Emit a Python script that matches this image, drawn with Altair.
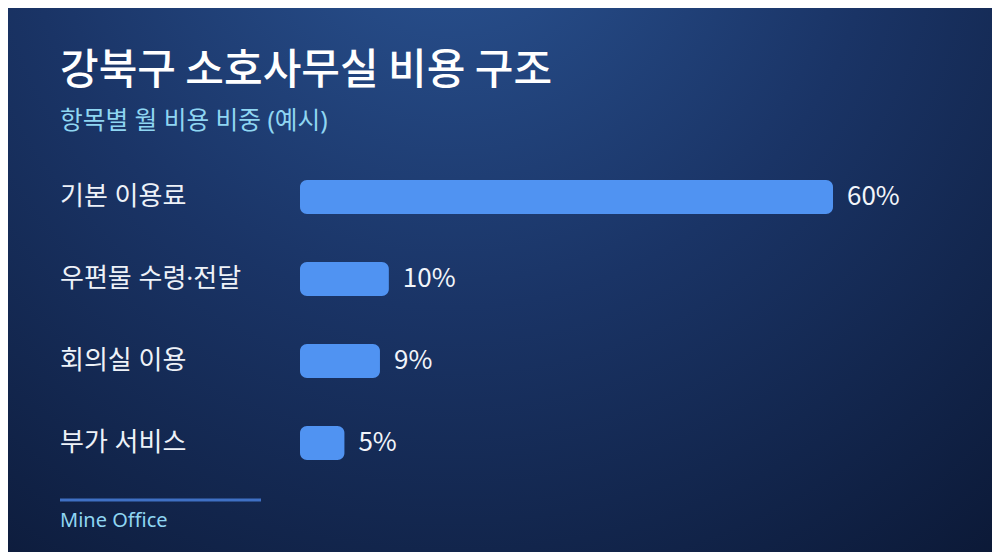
import altair as alt
import pandas as pd

categories = ["기본 이용료", "우편물 수령·전달", "회의실 이용", "부가 서비스"]
values = [60, 10, 9, 5]
value_labels = ["60%", "10%", "9%", "5%"]

title_text = "강북구 소호사무실 비용 구조"
subtitle_text = "항목별 월 비용 비중 (예시)"
footer_text = "Mine Office"

FONT = "Noto Sans CJK KR"
MIXED = "Noto Sans, Noto Sans CJK KR"
W, H = 984, 544

df = pd.DataFrame({"category": categories, "value": values, "label": value_labels})
one = pd.DataFrame({"k": [0]})

bg = alt.Chart(one).mark_rect(
    fill={
        "gradient": "radial",
        "x1": 0.45, "y1": 0.1, "r1": 0.0,
        "x2": 0.45, "y2": 0.1, "r2": 0.95,
        "stops": [
            {"offset": 0.0, "color": "#2b5595"},
            {"offset": 0.45, "color": "#1a3466"},
            {"offset": 1.0, "color": "#09142e"},
        ],
    }
).encode(
    x=alt.value(-8), x2=alt.value(W + 8), y=alt.value(-8), y2=alt.value(H + 8)
)

yscale = alt.Scale(type="point", domain=categories, range=[189, 435], padding=0)
xscale = alt.Scale(domain=[0, 60], range=[292, 825], nice=False, zero=True)

bars = alt.Chart(df).mark_bar(
    height=34, cornerRadius=7, color="#5093f2"
).encode(
    x=alt.X("value:Q", scale=xscale, axis=None),
    x2=alt.datum(0),
    y=alt.Y("category:N", scale=yscale, axis=None, sort=categories),
)

vals = alt.Chart(df).mark_text(
    align="left", baseline="middle", dx=14, font=FONT, fontSize=26, color="#f2f5fa"
).encode(
    x=alt.X("value:Q", scale=xscale, axis=None),
    y=alt.Y("category:N", scale=yscale, axis=None, sort=categories),
    text="label:N",
)

cats = alt.Chart(df).mark_text(
    align="left", baseline="middle", font=MIXED, fontSize=26, color="#eef2f8"
).encode(
    x=alt.value(52),
    y=alt.Y("category:N", scale=yscale, axis=None, sort=categories),
    text="category:N",
)

title = alt.Chart(one).mark_text(
    align="left", baseline="middle", font=FONT, fontSize=42, fontWeight=500,
    color="#ffffff", text=title_text,
).encode(x=alt.value(52), y=alt.value(63))

subtitle = alt.Chart(one).mark_text(
    align="left", baseline="middle", font=MIXED, fontSize=24.7,
    color="#8fd6f2", text=subtitle_text,
).encode(x=alt.value(52), y=alt.value(114))

rule = alt.Chart(one).mark_rule(color="#3f70c4", strokeWidth=3).encode(
    x=alt.value(52), x2=alt.value(253), y=alt.value(492)
)

footer = alt.Chart(one).mark_text(
    align="left", baseline="middle", font=MIXED, fontSize=20,
    color="#8fd6f2", text=footer_text,
).encode(x=alt.value(52), y=alt.value(513))

chart = alt.layer(bg, bars, vals, cats, title, subtitle, rule, footer).properties(
    width=W, height=H, padding=0, autosize=alt.AutoSizeParams(type="none"),
    background="#0b1733",
).configure_view(stroke=None)

chart.save("out.html", embed_options={"renderer": "svg", "actions": False})
